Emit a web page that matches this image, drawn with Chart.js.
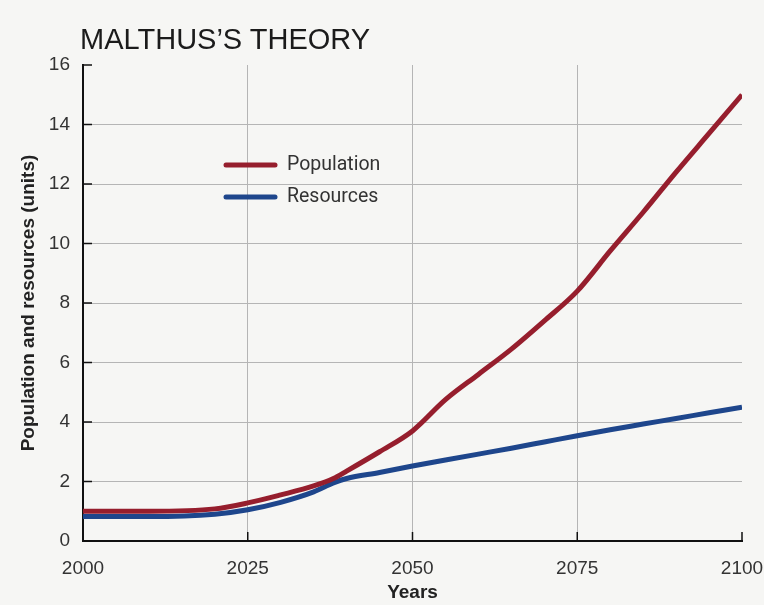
<!DOCTYPE html>
<html>
<head>
<meta charset="utf-8">
<script src="https://cdn.jsdelivr.net/npm/chart.js@4.4.1/dist/chart.umd.min.js"></script>
<style>
  html, body { margin: 0; padding: 0; background: #f6f6f4; }
  #wrap { position: relative; width: 764px; height: 605px; }
  #title {
    position: absolute; left: 80px; top: 23px;
    font-family: "Liberation Sans", Arial, sans-serif;
    font-size: 29px; color: #1b1b1b;
  }
</style>
</head>
<body>
<div id="wrap">
  <div id="title">MALTHUS’S THEORY</div>
  <canvas id="myChart" width="764" height="605"></canvas>
</div>
<script>
// data
const years = [2000, 2010, 2020, 2025, 2030, 2035, 2038, 2040, 2045, 2050, 2055, 2060, 2065, 2070, 2075, 2080, 2085, 2090, 2095, 2100]
const population = [1.0, 1.0, 1.08, 1.28, 1.55, 1.85, 2.1, 2.35, 3.0, 3.7, 4.75, 5.6, 6.45, 7.4, 8.4, 9.75, 11.05, 12.4, 13.7, 15.0]
const resources = [0.82, 0.82, 0.9, 1.05, 1.3, 1.65, 1.95, 2.1, 2.3, 2.52, 2.72, 2.92, 3.12, 3.33, 3.54, 3.74, 3.93, 4.12, 4.31, 4.5]
const seriesNames = ["Population", "Resources"]
const xTicks = [2000, 2025, 2050, 2075, 2100]

const red = "rgb(150, 30, 45)"
const blue = "rgb(30, 70, 140)"
const font = "'Liberation Sans', Arial, sans-serif"

// inward ticks + legend inside the plot
const extras = {
    id: "extras",
    afterDraw(chart) {
        const ctx = chart.ctx
        const x = chart.scales.x
        const y = chart.scales.y
        ctx.save()
        ctx.strokeStyle = "#111"
        ctx.lineWidth = 1.5
        y.ticks.forEach(t => {
            const py = y.getPixelForValue(t.value)
            ctx.beginPath(); ctx.moveTo(x.left, py); ctx.lineTo(x.left + 9, py); ctx.stroke()
        })
        xTicks.slice(1).forEach(v => {
            const px = x.getPixelForValue(v)
            ctx.beginPath(); ctx.moveTo(px, y.bottom); ctx.lineTo(px, y.bottom - 9); ctx.stroke()
        })
        // legend
        const items = chart.data.datasets
        ctx.font = "19.5px Roboto, " + font
        ctx.textBaseline = "middle"
        items.forEach((ds, i) => {
            const ly = 165 + i * 32
            ctx.strokeStyle = ds.borderColor
            ctx.lineWidth = 5
            ctx.lineCap = "round"
            ctx.beginPath(); ctx.moveTo(226, ly); ctx.lineTo(275, ly); ctx.stroke()
            ctx.fillStyle = "#333"
            ctx.fillText(ds.label, 287, ly)
        })
        ctx.restore()
    }
}

new Chart("myChart", {
    type: "line",
    data: {
        datasets: [{
            label: seriesNames[0],
            data: years.map((yr, i) => ({ x: yr, y: population[i] })),
            borderColor: red,
            borderWidth: 5,
            pointRadius: 0,
            cubicInterpolationMode: "monotone"
        }, {
            label: seriesNames[1],
            data: years.map((yr, i) => ({ x: yr, y: resources[i] })),
            borderColor: blue,
            borderWidth: 5,
            pointRadius: 0,
            cubicInterpolationMode: "monotone"
        }]
    },
    options: {
        responsive: false,
        animation: false,
        layout: { padding: { left: 0, right: 22, top: 65, bottom: 0 } },
        plugins: {
            legend: { display: false },
            tooltip: { enabled: false }
        },
        scales: {
            x: {
                type: "linear",
                min: 2000,
                max: 2100,
                afterBuildTicks: s => { s.ticks = xTicks.map(v => ({ value: v })) },
                afterFit: s => { s.height = 64; s.paddingLeft = 0; s.paddingRight = 0 },
                ticks: { color: "#333", font: { family: font, size: 19 }, padding: 16, callback: v => String(v) },
                grid: {
                    drawTicks: false,
                    color: c => (c.tick && (c.tick.value === 2000 || c.tick.value === 2100)) ? "rgba(0,0,0,0)" : "#b5b5b5",
                    lineWidth: 1
                },
                border: { color: "#111", width: 2 },
                title: {
                    display: true, text: "Years", color: "#222",
                    font: { family: font, size: 19, weight: "bold" },
                    padding: { top: 0, bottom: 1 }
                }
            },
            y: {
                min: 0,
                max: 16,
                afterFit: s => { s.width = 83; s.paddingTop = 0; s.paddingBottom = 0 },
                ticks: { stepSize: 2, color: "#333", font: { family: font, size: 19 }, padding: 13 },
                grid: {
                    drawTicks: false,
                    color: c => (c.tick && (c.tick.value === 0 || c.tick.value === 16)) ? "rgba(0,0,0,0)" : "#b5b5b5",
                    lineWidth: 1
                },
                border: { color: "#111", width: 2 },
                title: {
                    display: true, text: "Population and resources (units)", color: "#222",
                    font: { family: font, size: 19, weight: "bold" },
                    padding: { top: 17, bottom: 0 }
                }
            }
        }
    },
    plugins: [extras]
});
</script>
</body>
</html>
